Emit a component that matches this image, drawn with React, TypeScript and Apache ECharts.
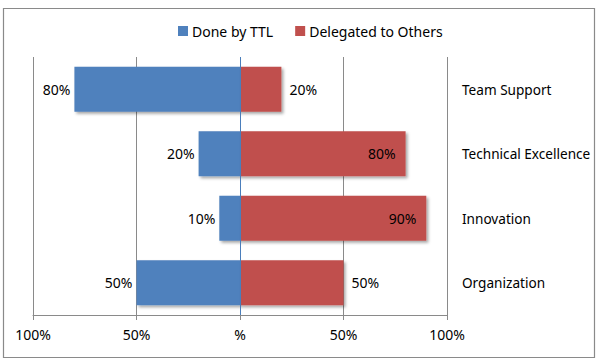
import React, { useEffect, useRef } from "react";
import * as echarts from "echarts";

const categories = ["Team Support", "Technical Excellence", "Innovation", "Organization"];
const doneByTTL = [80, 20, 10, 50];
const delegated = [20, 80, 90, 50];
const seriesNames = ["Done by TTL", "Delegated to Others"];
const tickValues = [-100, -50, 0, 50, 100];

const FONT = "Noto Sans";
const FS = 14;

export default function App() {
  const ref = useRef<HTMLDivElement>(null);
  useEffect(() => {
    if (!ref.current) return;
    const chart = echarts.init(ref.current, null, { renderer: "svg" });
    const shadow = {
      shadowBlur: 3,
      shadowOffsetX: 2,
      shadowOffsetY: 2,
      shadowColor: "rgba(0,0,0,0.35)",
    };
    chart.setOption({
      animation: false,
      backgroundColor: "#fff",
      textStyle: { fontFamily: FONT },
      graphic: [
        {
          type: "rect",
          silent: true,
          z: 100,
          shape: { x: 3.5, y: 8.5, width: 591, height: 349 },
          style: { fill: "transparent", stroke: "#8a8a8a", lineWidth: 1.2 },
        },
      ],
      legend: {
        left: 173,
        top: 19,
        icon: "rect",
        itemWidth: 10,
        itemHeight: 10,
        itemGap: 22,
        textStyle: { fontFamily: FONT, fontSize: FS, color: "#000", padding: [0, 0, 0, -1] },
        data: seriesNames,
      },
      grid: { left: 33, right: 153, top: 57, bottom: 49, containLabel: false },
      xAxis: {
        type: "value",
        min: tickValues[0],
        max: tickValues[tickValues.length - 1],
        interval: 50,
        axisLine: { show: true, lineStyle: { color: "#8a8a8a" } },
        axisTick: { show: true, length: 5, lineStyle: { color: "#8a8a8a" } },
        splitLine: { show: true, lineStyle: { color: "#8a8a8a", width: 1 } },
        axisLabel: {
          color: "#000",
          fontSize: FS,
          fontFamily: FONT,
          margin: 12,
          formatter: (v: number) => (v === 0 ? "%" : Math.abs(v) + "%"),
        },
      },
      yAxis: {
        type: "category",
        data: categories,
        inverse: true,
        position: "right",
        axisLine: { show: false },
        axisTick: { show: false },
        axisLabel: {
          color: "#000",
          fontSize: 13.6,
          fontFamily: FONT,
          margin: 15,
          align: "left",
        },
      },
      series: [
        {
          name: seriesNames[0],
          type: "bar",
          stack: "total",
          barCategoryGap: "30%",
          data: doneByTTL.map((v) => -v),
          itemStyle: { color: "#4F81BD", ...shadow },
          label: {
            show: true,
            position: "left",
            distance: 4,
            color: "#000",
            fontSize: FS,
            fontFamily: FONT,
            formatter: (p: any) => Math.abs(p.value) + "%",
          },
          markLine: {
            silent: true,
            symbol: "none",
            label: { show: false },
            lineStyle: { color: "#4a7ebb", type: "solid", width: 1 },
            data: [{ xAxis: 0 }],
          },
        },
        {
          name: seriesNames[1],
          type: "bar",
          stack: "total",
          barCategoryGap: "30%",
          data: delegated.map((v) => ({
            value: v,
            label:
              v >= 80
                ? { position: "insideRight", distance: 10 }
                : { position: "right", distance: 8 },
          })),
          itemStyle: { color: "#C0504D", ...shadow },
          label: {
            show: true,
            color: "#000",
            fontSize: FS,
            fontFamily: FONT,
            formatter: (p: any) => p.value + "%",
          },
        },
      ],
    });
    return () => chart.dispose();
  }, []);
  return (
    <div
      ref={ref}
      style={{ width: 600, height: 364, position: "fixed", left: 0, top: 0 }}
    />
  );
}
